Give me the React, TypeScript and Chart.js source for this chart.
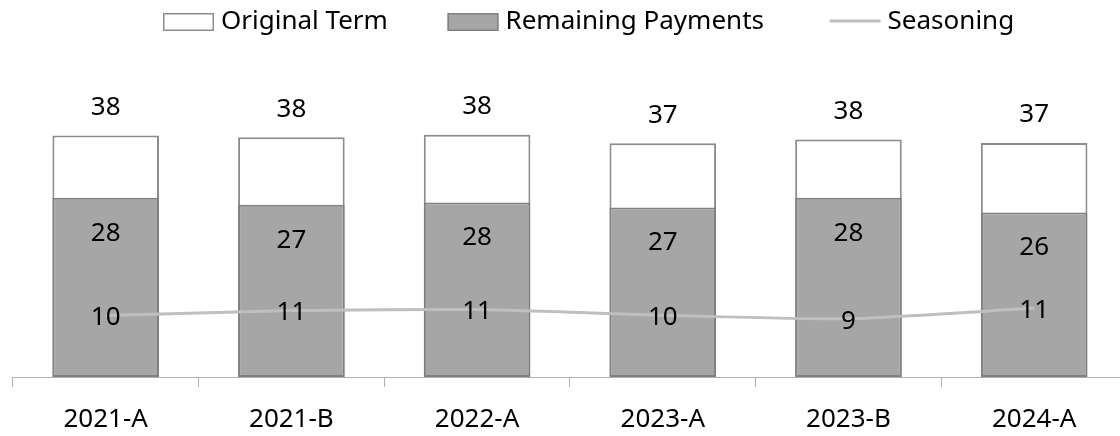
import React, { useEffect, useRef } from 'react';
import { Chart, registerables } from 'chart.js';

Chart.register(...registerables);

const categories = ['2021-A', '2021-B', '2022-A', '2023-A', '2023-B', '2024-A'];
const originalTerm = [38.35, 38.05, 38.45, 37.1, 37.7, 37.15];
const remainingPayments = [28.45, 27.35, 27.7, 26.9, 28.45, 26.1];
const seasoning = [9.75, 10.55, 10.7, 9.8, 9.25, 10.95];

const FONT = '"Noto Sans", sans-serif';

const valueLabels = {
  id: 'valueLabels',
  afterDatasetsDraw(chart: any) {
    const ctx = chart.ctx;
    ctx.save();
    ctx.font = `26px ${FONT}`;
    ctx.fillStyle = '#000';
    ctx.textAlign = 'center';
    ctx.textBaseline = 'middle';
    chart.data.datasets.forEach((ds: any, i: number) => {
      const meta = chart.getDatasetMeta(i);
      meta.data.forEach((el: any, j: number) => {
        const v = Math.round(ds.data[j]);
        let y = el.y + 2.5;
        if (ds.labelPos === 'above') y = el.y - 28;
        else if (ds.labelPos === 'inside') y = el.y + 35.5;
        ctx.fillText(String(v), el.x, y);
      });
    });
    ctx.restore();
  },
};

const customLegend = {
  id: 'customLegend',
  afterDraw(chart: any, _args: any, opts: any) {
    const ctx = chart.ctx;
    ctx.save();
    ctx.font = `${opts.fontSize}px ${FONT}`;
    ctx.fillStyle = '#000';
    ctx.textBaseline = 'middle';
    ctx.textAlign = 'left';
    chart.data.datasets.forEach((ds: any, i: number) => {
      const x = opts.xs[i];
      const y = opts.y;
      if (ds.type === 'line') {
        ctx.strokeStyle = ds.borderColor;
        ctx.lineWidth = ds.borderWidth;
        ctx.beginPath();
        ctx.moveTo(x, y - 1);
        ctx.lineTo(x + opts.boxWidth, y - 1);
        ctx.stroke();
      } else {
        ctx.fillStyle = ds.backgroundColor;
        ctx.fillRect(x, y - opts.boxHeight / 2, opts.boxWidth, opts.boxHeight);
        ctx.strokeStyle = ds.borderColor;
        ctx.lineWidth = 1.5;
        ctx.strokeRect(x + 0.75, y - opts.boxHeight / 2 + 0.75, opts.boxWidth - 1.5, opts.boxHeight - 1.5);
      }
      ctx.fillStyle = '#000';
      ctx.fillText(ds.label, x + opts.boxWidth + opts.gap, y);
    });
    ctx.restore();
  },
};

export default function App() {
  const ref = useRef<HTMLCanvasElement>(null);
  useEffect(() => {
    if (!ref.current) return;
    const chart = new Chart(ref.current, {
      type: 'bar',
      data: {
        labels: categories,
        datasets: [
          {
            label: 'Original Term',
            data: originalTerm,
            backgroundColor: '#FFFFFF',
            borderColor: '#8C8C8C',
            borderWidth: 2,
            borderSkipped: false,
            order: 2,
            labelPos: 'above',
          } as any,
          {
            label: 'Remaining Payments',
            data: remainingPayments,
            backgroundColor: '#A6A6A6',
            borderColor: '#808080',
            borderWidth: 2,
            borderSkipped: false,
            order: 1,
            labelPos: 'inside',
          } as any,
          {
            type: 'line',
            label: 'Seasoning',
            data: seasoning,
            borderColor: '#BFBFBF',
            borderWidth: 3,
            pointRadius: 0,
            tension: 0.2,
            order: 0,
            labelPos: 'center',
          } as any,
        ],
      },
      options: {
        responsive: false,
        animation: false,
        layout: { padding: { left: 4.85, right: 3, top: 54, bottom: 0 } },
        datasets: { bar: { grouped: false, barPercentage: 0.574, categoryPercentage: 1 } } as any,
        plugins: {
          legend: { display: false },
          tooltip: { enabled: false },
          customLegend: { xs: [155, 439.5, 821.6], y: 14, boxWidth: 51, boxHeight: 18, gap: 7, fontSize: 26 },
        } as any,
        scales: {
          x: {
            grid: { display: true, drawOnChartArea: false, drawTicks: true, tickLength: 10, color: '#B0B0B0', offset: true },
            border: { display: true, color: '#B0B0B0', width: 1 },
            ticks: { font: { family: FONT, size: 26 }, color: '#000', padding: 17.4 },
          },
          y: { display: false, min: 0, max: 50 },
        },
      },
      plugins: [valueLabels, customLegend],
    });
    return () => chart.destroy();
  }, []);
  return (
    <div style={{ position: 'absolute', left: 8, top: 8, width: 1112, height: 428, overflow: 'hidden' }}>
      <canvas ref={ref} width={1122} height={445} style={{ display: 'block' }} />
    </div>
  );
}
